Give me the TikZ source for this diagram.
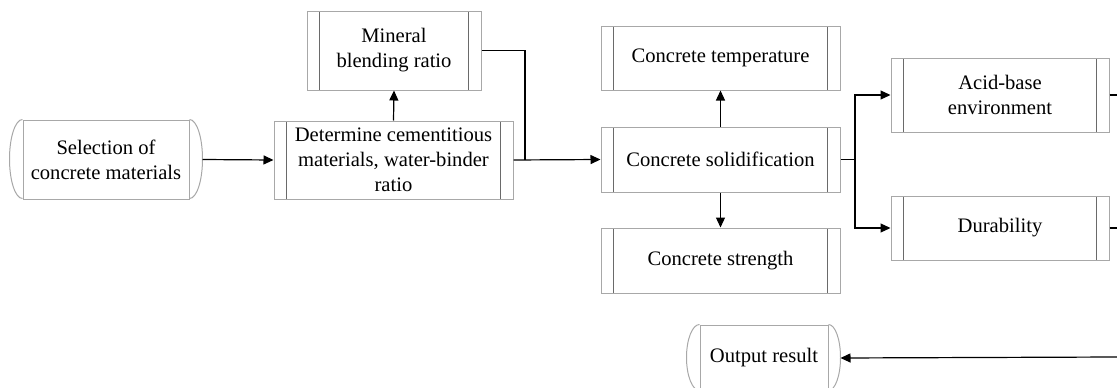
\documentclass[tikz,border=0pt]{standalone}
\usepackage{fontspec}
\setmainfont{Liberation Serif}
\usetikzlibrary{arrows.meta,calc}
\definecolor{bordergray}{HTML}{A8A8A8}
\definecolor{innergray}{HTML}{6A6A6A}
\tikzset{
  procbox/.style={draw=bordergray, line width=1pt, rectangle, inner sep=0pt, align=center,
    font=\fontsize{20.6}{25}\selectfont,
    path picture={
      \draw[innergray, line width=1pt]
        ([xshift=12.5pt]path picture bounding box.north west) -- ([xshift=12.5pt]path picture bounding box.south west)
        ([xshift=-12.5pt]path picture bounding box.north east) -- ([xshift=-12.5pt]path picture bounding box.south east);
    }},
  termbox/.style={draw=bordergray, line width=1pt, rectangle, inner sep=0pt, align=center,
    font=\fontsize{20.6}{25}\selectfont},
  bulge/.style={draw=bordergray, line width=1pt},
  conn/.style={draw=black, line width=1.2pt},
  arr/.style={conn, -{Triangle[length=10pt,width=9pt]}}
}
\begin{document}
\begin{tikzpicture}
\useasboundingbox (0pt,0pt) rectangle (1117pt,-388pt);
\begin{scope}[x=1pt,y=-1pt]
% terminator: Selection
\node[termbox, minimum width=166pt, minimum height=79pt] (sel) at (106,159.5) {Selection of\\concrete materials};
\draw[bulge] (sel.north west) arc[start angle=90, end angle=270, x radius=13pt, y radius=39.5pt];
\draw[bulge] (sel.north east) arc[start angle=90, end angle=-90, x radius=13pt, y radius=39.5pt];
% process boxes
\node[procbox, minimum width=239pt, minimum height=78pt] (det) at (393.5,160) {Determine cementitious\\materials, water-binder\\ratio};
\node[procbox, minimum width=174pt, minimum height=79pt] (min) at (394,50.5) {Mineral\\blending ratio};
\node[procbox, minimum width=239pt, minimum height=64pt] (temp) at (720.5,58) {Concrete temperature};
\node[procbox, minimum width=239pt, minimum height=65pt] (sol) at (720.5,159.5) {Concrete solidification};
\node[procbox, minimum width=239pt, minimum height=65pt] (str) at (720.5,260.5) {Concrete strength};
\node[procbox, minimum width=218pt, minimum height=74pt] (acid) at (1000,95) {Acid-base\\environment};
\node[procbox, minimum width=218pt, minimum height=64pt] (dur) at (1000,228) {Durability};
% terminator: Output
\node[termbox, minimum width=128pt, minimum height=66pt] (out) at (764,358) {Output result};
\draw[bulge] (out.north west) arc[start angle=90, end angle=270, x radius=13pt, y radius=33pt];
\draw[bulge] (out.north east) arc[start angle=90, end angle=-90, x radius=12pt, y radius=33pt];
% coordinates
\coordinate (selr) at ($(sel.east)+(13,0)$);
\coordinate (outr) at ($(out.east)+(12,0)$);
\coordinate (j) at (525,160);
\coordinate (fork) at (855,159.5);
\coordinate (r1) at (1117,95);
\coordinate (r2) at (1117,228);
\coordinate (r3) at (1117,357);
% connectors
\draw[arr] (selr) -- (det.west);
\draw[arr] (det.north) -- (min.south);
\draw[conn] (min.east) -| (j);
\draw[arr] (det.east) -- (sol.west);
\draw[arr] (sol.north) -- (temp.south);
\draw[arr] (sol.south) -- (str.north);
\draw[conn] (sol.east) -- (fork);
\draw[arr] (fork) |- (acid.west);
\draw[arr] (fork) |- (dur.west);
\draw[conn] (acid.east) -- (r1);
\draw[conn] (dur.east) -- (r2);
\draw[arr] (r3) -- (outr);
\end{scope}
\end{tikzpicture}
\end{document}
